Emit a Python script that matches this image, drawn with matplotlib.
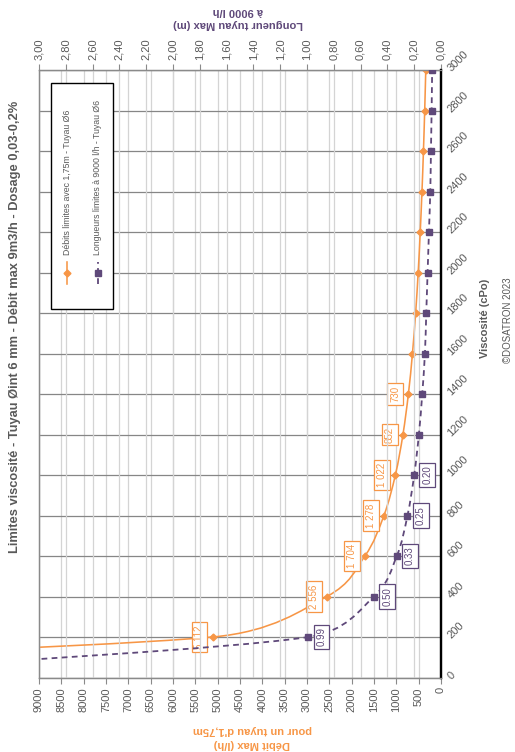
import matplotlib
matplotlib.use("Agg")
import matplotlib.pyplot as plt
from matplotlib.path import Path
from matplotlib.patches import PathPatch, Rectangle
from matplotlib.lines import Line2D
import numpy as np

plt.rcParams['font.family'] = ['Liberation Sans', 'DejaVu Sans']

# ---------------- data ----------------
viscosity = [50, 200, 400, 600, 800, 1000, 1200, 1400, 1600, 1800, 2000, 2200, 2400, 2600, 2800, 3000]
debit = [20448, 5112, 2556, 1704, 1278, 1022, 852, 730, 639, 568, 511, 465, 426, 393, 365, 341]
longueur = [3.96, 0.99, 0.50, 0.33, 0.25, 0.20, 0.165, 0.14, 0.12, 0.11, 0.10, 0.09, 0.08, 0.075, 0.07, 0.066]
debit_labels = ["5 112", "2 556", "1 704", "1 278", "1 022", "852", "730"]
longueur_labels = ["0.99", "0.50", "0.33", "0.25", "0.20"]
debit_ticks = list(range(0, 9001, 500))
longueur_ticks = [round(0.2 * i, 2) for i in range(16)]
visc_ticks = list(range(0, 3001, 200))

title = "Limites viscosité - Tuyau Øint 6 mm - Débit max 9m3/h - Dosage 0,03-0,2%"
legend_labels = ["Débits limites avec 1,75m - Tuyau Ø6", "Longueurs limites à 9000 l/h - Tuyau Ø6"]

ORANGE = '#F79646'
PURPLE = '#5F497A'
GREY = '#595959'

W, H = 515, 752
fig = plt.figure(figsize=(W / 100, H / 100), dpi=100)

def fx(x):
    return x / W

def fy(y):
    return 1 - y / H

L, R, T, B = 39, 441, 70, 677.5
ax = fig.add_axes([fx(L), fy(B), fx(R) - fx(L), fy(T) - fy(B)])
ax2 = ax.twiny()

ax.set_xlim(9000, 0)
ax.set_ylim(0, 3000)
ax2.set_xlim(3.0, 0.0)


def smooth_path(xs, ys, sx, sy):
    """Excel-like smoothed Bezier path; sx, sy = pixels per data unit."""
    pts = np.column_stack([np.asarray(xs, float) * sx, np.asarray(ys, float) * sy])
    n = len(pts)
    verts = [pts[0]]
    codes = [Path.MOVETO]
    for i in range(n - 1):
        p0 = pts[i - 1] if i > 0 else pts[i]
        p1 = pts[i]
        p2 = pts[i + 1]
        p3 = pts[i + 2] if i + 2 < n else pts[i + 1]
        seg = np.hypot(*(p2 - p1))
        v1 = (p2 - p0) / 6.0
        v2 = (p3 - p1) / 6.0
        l1 = np.hypot(*v1)
        l2 = np.hypot(*v2)
        if l1 > seg / 2:
            v1 = v1 * (seg / 2) / l1
        if l2 > seg / 2:
            v2 = v2 * (seg / 2) / l2
        verts += [p1 + v1, p2 - v2, p2]
        codes += [Path.CURVE4] * 3
    verts = np.array(verts)
    verts[:, 0] /= sx
    verts[:, 1] /= sy
    return Path(verts, codes)


PX_W = R - L
PX_H = B - T

# grids
ax.set_yticks(visc_ticks)
ax.set_xticks(debit_ticks)
ax2.set_xticks(longueur_ticks)
ax.grid(axis='y', color='#868686', lw=0.9, zorder=0)
ax.grid(axis='x', color='#d4d4d4', lw=0.9, zorder=0)
ax2.grid(axis='x', color='#d4d4d4', lw=0.9, zorder=0)
ax.set_axisbelow(True)
ax2.set_axisbelow(True)

# orange series
pp = PathPatch(smooth_path(debit, viscosity, PX_W / 9000, PX_H / 3000), fill=False,
               edgecolor=ORANGE, lw=1.15, zorder=3)
ax.add_patch(pp)
ax.plot(debit, viscosity, linestyle='none', marker='D', ms=3.5, color=ORANGE, zorder=4)

# purple series
pp2 = PathPatch(smooth_path(longueur, viscosity, PX_W / 3.0, PX_H / 3000), fill=False,
                edgecolor=PURPLE, lw=1.3, linestyle=(0, (3.2, 2.4)), zorder=3)
ax2.add_patch(pp2)
ax2.plot(longueur, viscosity, linestyle='none', marker='s', ms=5, color=PURPLE, zorder=4)

# data labels
for i, lab in enumerate(debit_labels):
    ax.annotate(lab, xy=(debit[i + 1], viscosity[i + 1]), xytext=(-9.5, 0), textcoords='offset points',
                rotation=90, ha='center', va='center', fontsize=7, color=ORANGE, zorder=6,
                bbox=dict(boxstyle='square,pad=0.3', fc='white', ec=ORANGE, lw=0.9))
for i, lab in enumerate(longueur_labels):
    ax2.annotate(lab, xy=(longueur[i + 1], viscosity[i + 1]), xytext=(9.5, 0), textcoords='offset points',
                 rotation=90, ha='center', va='center', fontsize=7, color=PURPLE, zorder=6,
                 bbox=dict(boxstyle='square,pad=0.3', fc='white', ec=PURPLE, lw=0.9))

# spines
for a in (ax, ax2):
    for s in ('left', 'bottom', 'top'):
        a.spines[s].set_color('#8a8a8a')
        a.spines[s].set_linewidth(0.9)
    a.spines['right'].set_color('black')
    a.spines['right'].set_linewidth(1.6)

# ticks
ax.yaxis.tick_right()
ax.set_yticklabels([str(v) for v in visc_ticks])
ax.tick_params(axis='y', length=0, pad=6, labelsize=8, labelcolor=GREY)
for t in ax.get_yticklabels():
    t.set_rotation(45)
    t.set_rotation_mode('anchor')
    t.set_ha('left')
    t.set_va('center')
ax.set_xticklabels([str(v) for v in debit_ticks], rotation=90)
ax.tick_params(axis='x', direction='out', length=4, color='#8a8a8a', pad=3, labelsize=8, labelcolor=GREY)
ax2.set_xticklabels([f"{v:.2f}".replace('.', ',') for v in longueur_ticks], rotation=90)
ax2.tick_params(axis='x', direction='out', length=4, color='#8a8a8a', pad=3, labelsize=8, labelcolor=GREY)
ax2.tick_params(axis='y', length=0)

# texts
fig.text(fx(15), fy(327), title, rotation=90, ha='center', va='center', fontsize=9.3,
         fontweight='bold', color=GREY)
fig.text(fx(252), fy(730), "pour un tuyau d'1,75m", rotation=180, ha='center', va='center',
         fontsize=8, fontweight='bold', color=ORANGE)
fig.text(fx(252), fy(744), "Débit Max (l/h)", rotation=180, ha='center', va='center',
         fontsize=8, fontweight='bold', color=ORANGE)
fig.text(fx(238), fy(24), "Longueur tuyau Max (m)", rotation=180, ha='center', va='center',
         fontsize=8, fontweight='bold', color=PURPLE)
fig.text(fx(238), fy(11), "à 9000 l/h", rotation=180, ha='center', va='center',
         fontsize=8, fontweight='bold', color=PURPLE)
fig.text(fx(485), fy(318), "Viscosité (cPo)", rotation=90, ha='center', va='center', fontsize=8,
         fontweight='bold', color=GREY)
fig.text(fx(508), fy(320), "©DOSATRON 2023", rotation=90, ha='center', va='center', fontsize=7,
         color=GREY)

# legend (manual, rotated)
fig.add_artist(Rectangle((fx(51), fy(309)), fx(113) - fx(51), fy(83) - fy(309), transform=fig.transFigure,
                         fc='white', ec='black', lw=1.0, zorder=10))
fig.add_artist(Line2D([fx(67), fx(67)], [fy(284), fy(262)], transform=fig.transFigure, color=ORANGE,
                      lw=1.15, zorder=11))
fig.add_artist(Line2D([fx(67)], [fy(273)], transform=fig.transFigure, color=ORANGE, marker='D', ms=3.5,
                      zorder=12))
fig.add_artist(Line2D([fx(98), fx(98)], [fy(284), fy(262)], transform=fig.transFigure, color=PURPLE,
                      lw=1.3, linestyle=(0, (3.2, 2.4)), zorder=11))
fig.add_artist(Line2D([fx(98)], [fy(273)], transform=fig.transFigure, color=PURPLE, marker='s', ms=5,
                      zorder=12))
fig.text(fx(67), fy(255), legend_labels[0], rotation=90, ha='center', va='bottom', fontsize=6.3,
         color=GREY, zorder=12)
fig.text(fx(98), fy(255), legend_labels[1], rotation=90, ha='center', va='bottom', fontsize=6.3,
         color=GREY, zorder=12)

fig.savefig('out.png', dpi=100, facecolor='white')
